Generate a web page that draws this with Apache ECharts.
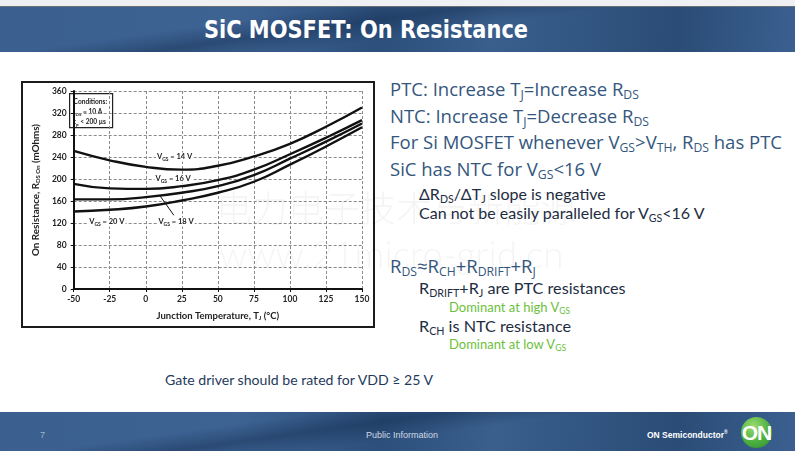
<!DOCTYPE html>
<html>
<head>
<meta charset="utf-8">
<script src="https://cdn.jsdelivr.net/npm/echarts@6/dist/echarts.min.js"></script>
<style>
  html, body { margin: 0; padding: 0; }
  body { width: 795px; height: 451px; position: relative; overflow: hidden; background: #fff; font-family: Lato, "Open Sans", sans-serif; }
  .topstrip { position: absolute; left: 0; top: 0; width: 795px; height: 6px; background: #eef0f4; border-bottom: 1px solid #6b6f74; }
  .band { position: absolute; left: 0; width: 795px;
    background: linear-gradient(172deg, rgba(20,45,80,0) 30%, rgba(20,45,80,0.45) 42%, rgba(20,45,80,0) 55%),
                linear-gradient(95deg, #3b6090 0%, #3d6393 30%, #2c4f7b 48%, #3a5f8d 62%, #2a4c76 85%, #3b6090 100%); }
  .header { top: 7px; height: 45px; }
  .footer { top: 412px; height: 39px; }
  .title { position: absolute; left: 0; width: 732px; top: 15px; text-align: center; color: #fff;
    font-family: "Liberation Sans Narrow", "DejaVu Sans Condensed", sans-serif; font-weight: bold; font-size: 24px; line-height: 30px;
    transform: scaleX(0.97); transform-origin: 366px 50%; }
  .ln { position: absolute; white-space: nowrap; }
  .ln sub { font-size: 66%; vertical-align: -0.28em; line-height: 0; }
  .big { font-family: "Open Sans", sans-serif; font-size: 18.5px; line-height: 20px; color: #34567d; }
  .mid { font-size: 16px; line-height: 18px; color: #1e2d42; }
  .dk { font-size: 16.2px; line-height: 20px; color: #1e2d42; }
  .grn { font-size: 13px; line-height: 14px; color: #6cbf3c; }
  .wm { position: absolute; color: rgba(0,0,0,0.045); white-space: nowrap; z-index: 5; pointer-events: none; font-weight: 300; }
  #chart { position: absolute; left: 21px; top: 81px; width: 350px; height: 243px; border: 2px solid #1b1b1b; background: #fff; }
  .foot { position: absolute; color: #cfd9e6; font-family: "Liberation Sans Narrow", sans-serif; font-size: 9px; }
  .logo { position: absolute; left: 741px; top: 417px; width: 31px; height: 31px; border-radius: 50%;
    background: radial-gradient(circle at 40% 30%, #9bdb6f 0%, #4cb040 55%, #2f8a30 100%);
    color: #fff; font-family: "Liberation Sans Narrow", sans-serif; font-weight: bold; font-size: 21px; line-height: 31px; text-align: center; letter-spacing: -1px; }
</style>
</head>
<body>
<div class="topstrip"></div>
<div class="band header"></div>
<div class="title">SiC MOSFET: On Resistance</div>

<div id="chart"></div>

<div class="ln big" style="left:390px;top:79px;">PTC: Increase T<sub>J</sub>=Increase R<sub>DS</sub></div>
<div class="ln big" style="left:390px;top:106px;">NTC: Increase T<sub>J</sub>=Decrease R<sub>DS</sub></div>
<div class="ln big" style="left:390px;top:132px;">For Si MOSFET whenever V<sub>GS</sub>&gt;V<sub>TH</sub>, R<sub>DS</sub> has PTC</div>
<div class="ln big" style="left:390px;top:159px;">SiC has NTC for V<sub>GS</sub>&lt;16 V</div>
<div class="ln mid" style="left:419px;top:185px;">&Delta;R<sub>DS</sub>/&Delta;T<sub>J</sub> slope is negative</div>
<div class="ln mid" style="left:419px;top:204px;">Can not be easily paralleled for V<sub>GS</sub>&lt;16 V</div>

<div class="ln big" style="left:390px;top:256px;">R<sub>DS</sub>&asymp;R<sub>CH</sub>+R<sub>DRIFT</sub>+R<sub>J</sub></div>
<div class="ln dk" style="left:419px;top:278px;">R<sub>DRIFT</sub>+R<sub>J</sub> are PTC resistances</div>
<div class="ln grn" style="left:449px;top:300px;">Dominant at high V<sub>GS</sub></div>
<div class="ln dk" style="left:419px;top:316px;">R<sub>CH</sub> is NTC resistance</div>
<div class="ln grn" style="left:449px;top:337px;">Dominant at low V<sub>GS</sub></div>

<div class="ln" style="left:165px;top:372px;font-size:14.1px;line-height:16px;color:#1f3a5c;">Gate driver should be rated for VDD &ge; 25 V</div>

<div class="wm" style="left:216px;top:186px;font-size:36px;line-height:40px;font-family:'Noto Sans CJK SC';">电力电子技术与新能源</div>
<div class="wm" style="left:219px;top:232px;font-size:37px;line-height:44px;">www.21micro-grid.cn</div>

<div class="band footer"></div>
<div class="foot" style="left:40px;top:430px;color:#9fb3cc;">7</div>
<div class="foot" style="left:366px;top:430px;">Public Information</div>
<div class="foot" style="left:647px;top:429px;color:#fff;font-family:'Liberation Sans',sans-serif;font-weight:bold;font-size:8.5px;">ON Semiconductor<sup style="font-size:5px;">&reg;</sup></div>
<div class="logo">ON</div>

<script>
// junction temperature (degC) and on-resistance (mOhm) per gate voltage
const temps = [-50, -25, 0, 25, 50, 75, 100, 125, 150];
const rds14 = [251, 234, 222, 217, 224, 241, 264, 295, 330];
const rds16 = [191, 183, 182, 187, 198, 217, 245, 275, 307];
const rds18 = [163, 163, 167, 175, 187, 207, 237, 268, 301];
const rds20 = [141, 144, 150, 161, 175, 195, 226, 259, 294];
const vgsNames = ["14", "16", "18", "20"];
const labelAt = [[20, 240], [19, 200], [21, 122], [-27, 122]];

const chart = echarts.init(document.getElementById("chart"));
const font = "Lato, 'Open Sans', sans-serif";
const sub = { fontSize: 6, fontWeight: "bold", fontFamily: font, color: "#222", verticalAlign: "bottom", padding: [4, 0, 0, 0] };

function pairs(vals) {
  return temps.map((t, i) => [t, vals[i]]);
}

function series(vals, idx) {
  const s = {
    type: "line",
    smooth: true,
    showSymbol: false,
    symbol: "none",
    data: pairs(vals),
    lineStyle: { color: "#111", width: 2.4 },
    z: 3,
    markPoint: {
      z: 2,
      symbol: "rect",
      symbolSize: 0,
      data: [{ coord: labelAt[idx] }],
      label: {
        show: true,
        position: "inside",
        backgroundColor: "#fff",
        padding: [0, 1],
        formatter: "{v|V}{s|GS}{v| = " + vgsNames[idx] + " V}",
        rich: {
          v: { fontSize: 7.5, fontWeight: "bold", fontFamily: font, color: "#222", lineHeight: 9 },
          s: { fontSize: 5, fontWeight: "bold", fontFamily: font, color: "#222", verticalAlign: "bottom", lineHeight: 9, padding: [3, 0, 0, 0] },
        },
      },
    },
  };
  if (idx === 2) {
    s.markLine = {
      silent: true,
      symbol: ["none", "none"],
      label: { show: false },
      lineStyle: { color: "#111", width: 1, type: "solid" },
      data: [[{ coord: [19.5, 134] }, { coord: [10, 169] }]],
    };
  }
  return s;
}

chart.setOption({
  animation: false,
  grid: { left: 42, top: 8, right: 11, bottom: 36 },
  xAxis: {
    type: "value",
    min: -50,
    max: 150,
    interval: 25,
    name: "{v|Junction Temperature, T}{s|J}{v| (°C)}",
    nameLocation: "middle",
    nameGap: 22,
    nameTextStyle: {
      rich: { v: { fontSize: 9.5, fontWeight: "bold", fontFamily: font, color: "#222" }, s: sub },
    },
    axisLine: { onZero: false, lineStyle: { color: "#111", width: 2 } },
    axisTick: { show: true, length: 3, lineStyle: { color: "#111" } },
    axisLabel: { color: "#222", fontSize: 8.5, fontWeight: "bold", fontFamily: font, margin: 6 },
    splitLine: { show: true, lineStyle: { color: "#8a8a8a", type: [3, 2], width: 1 } },
  },
  yAxis: {
    type: "value",
    min: 0,
    max: 360,
    interval: 40,
    name: "{v|On Resistance, R}{s|DS On}{v| (mOhms)}",
    nameLocation: "middle",
    nameGap: 29,
    nameTextStyle: {
      rich: { v: { fontSize: 9.8, fontWeight: "bold", fontFamily: font, color: "#222" }, s: sub },
    },
    axisLine: { show: true, onZero: false, lineStyle: { color: "#111", width: 2 } },
    axisTick: { show: true, length: 3, lineStyle: { color: "#111" } },
    axisLabel: { color: "#222", fontSize: 8.5, fontWeight: "bold", fontFamily: font, margin: 7 },
    splitLine: { show: true, lineStyle: { color: "#8a8a8a", type: [3, 2], width: 1 } },
  },
  graphic: [
    {
      type: "group",
      left: 46,
      top: 10,
      children: [
        { type: "rect", shape: { x: 0, y: 0, width: 43, height: 34 }, style: { fill: "#fff", stroke: "#222", lineWidth: 1.2 } },
        {
          type: "text",
          x: 4,
          y: 3,
          style: {
            text: "{b|Conditions:}\n{v|I}{s|DS}{v| = 10 A}\n{v|t}{s|p}{v| < 200 µs}",
            rich: {
              b: { fontSize: 6.6, fontWeight: "bold", fontFamily: font, fill: "#222", lineHeight: 10 },
              v: { fontSize: 6.6, fontWeight: "bold", fontFamily: font, fill: "#222", lineHeight: 10 },
              s: { fontSize: 4.5, fontWeight: "bold", fontFamily: font, fill: "#222", verticalAlign: "bottom", lineHeight: 10, padding: [3, 0, 0, 0] },
            },
          },
        },
      ],
    },
  ],
  series: [series(rds14, 0), series(rds16, 1), series(rds18, 2), series(rds20, 3)],
});
</script>
</body>
</html>
